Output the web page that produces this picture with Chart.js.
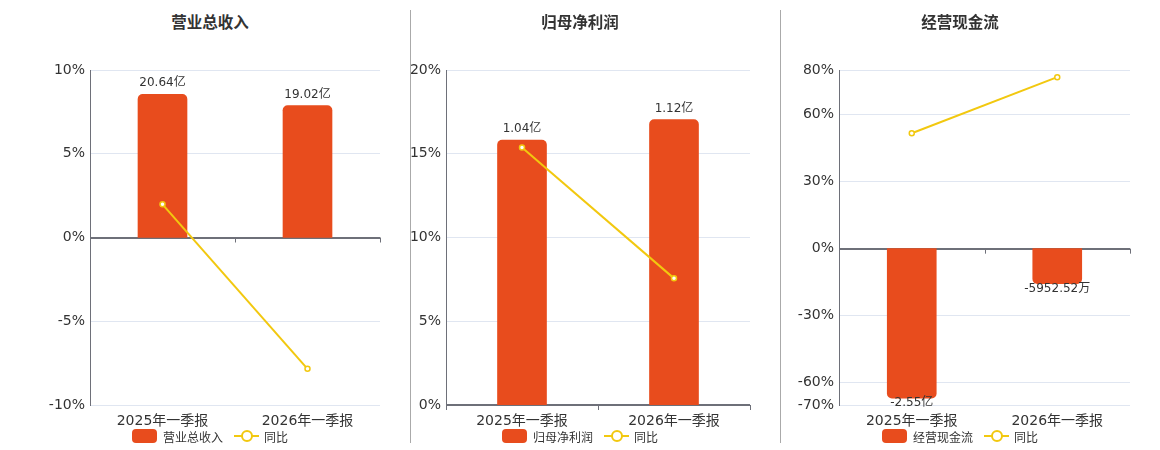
<!DOCTYPE html>
<html>
<head>
<meta charset="utf-8">
<script src="https://cdn.jsdelivr.net/npm/chart.js@4.4.1/dist/chart.umd.min.js"></script>
<style>
  html, body { margin: 0; padding: 0; background: #fff; }
  body { width: 1160px; height: 450px; position: relative; overflow: hidden;
         font-family: 'DejaVu Sans', 'Noto Sans CJK SC', sans-serif; color: #333; }
  .panel { position: absolute; top: 0; height: 450px; }
  .title { position: absolute; top: 12px; left: 0; right: 0; text-align: center;
           font-size: 15.5px; font-weight: bold; color: #333; line-height: 22px; }
  .box { position: absolute; top: 0; left: 0; height: 450px; }
  .legend { position: absolute; top: 429px; left: 0; right: 0; display: flex;
            justify-content: center; align-items: center; font-size: 12px; color: #333; height: 14px; }
  .legend .item { display: flex; align-items: center; }
  .legend .item + .item { margin-left: 11px; }
  .swatch { width: 25px; height: 14px; border-radius: 4px; background: #e84c1d; margin-right: 6px; }
  .lineicon { position: relative; width: 25px; height: 14px; margin-right: 5px; }
  .lineicon::before { content: ''; position: absolute; left: 0; right: 0; top: 6px; height: 2px; background: #f2c80f; }
  .lineicon::after { content: ''; position: absolute; left: 7px; top: 1px; width: 8px; height: 8px;
                     border: 2px solid #f2c80f; border-radius: 50%; background: #fff; }
  .divider { position: absolute; top: 10px; height: 433px; width: 1px; background: #aaa; }
</style>
</head>
<body>

<div class="panel" style="left:0;width:420px">
  <div class="title">营业总收入</div>
  <div class="box" style="width:390px"><canvas id="c1"></canvas></div>
  <div class="legend"><div class="item"><span class="swatch"></span>营业总收入</div><div class="item"><span class="lineicon"></span>同比</div></div>
</div>
<div class="divider" style="left:410px"></div>
<div class="panel" style="left:400px;width:360px">
  <div class="title">归母净利润</div>
  <div class="box" style="width:360px"><canvas id="c2"></canvas></div>
  <div class="legend"><div class="item"><span class="swatch"></span>归母净利润</div><div class="item"><span class="lineicon"></span>同比</div></div>
</div>
<div class="divider" style="left:780px"></div>
<div class="panel" style="left:780px;width:360px">
  <div class="title">经营现金流</div>
  <div class="box" style="width:360px"><canvas id="c3"></canvas></div>
  <div class="legend"><div class="item"><span class="swatch"></span>经营现金流</div><div class="item"><span class="lineicon"></span>同比</div></div>
</div>

<script>
// ---- data (amounts in 亿, growth in %) ----
const categories = ['2025年一季报', '2026年一季报'];

const revenueValues = [20.64, 19.02];
const revenueYoy = [1.98, -7.84];
const revenueTicks = [-10, -5, 0, 5, 10];

const profitValues = [1.04, 1.12];
const profitYoy = [15.37, 7.56];
const profitTicks = [0, 5, 10, 15, 20];

const cashValues = [-2.55, -0.595252];
const cashYoy = [51.7, 76.8];
const cashTicks = [-70, -60, -30, 0, 30, 60, 80];

const BAR = '#e84c1d';
const LINE = '#f2c80f';
const AXIS = '#6e7079';
const GRID = '#e0e6f1';
const FONT = "'DejaVu Sans', 'Noto Sans CJK SC', sans-serif";

function fmtAmount(v) {
    // values are in 亿; small ones shown in 万
    if (Math.abs(v) >= 1) return v.toFixed(2) + '亿';
    return (v * 10000).toFixed(2) + '万';
}

// bar value labels, zero-line tick marks
const extras = {
    id: 'extras',
    afterDatasetsDraw(chart) {
        const { ctx } = chart;
        const x = chart.scales.x, y = chart.scales.y;
        const zeroY = y.getPixelForValue(0);

        ctx.save();
        ctx.strokeStyle = AXIS;
        ctx.lineWidth = 1;
        for (let i = 0; i <= categories.length; i++) {
            const px = Math.round(x.getPixelForValue(i - 0.5)) + 0.5;
            ctx.beginPath();
            ctx.moveTo(px, zeroY);
            ctx.lineTo(px, zeroY + 5);
            ctx.stroke();
        }

        const meta = chart.getDatasetMeta(1);
        const values = chart.data.datasets[1].data;
        ctx.font = '12px ' + FONT;
        ctx.fillStyle = '#333';
        ctx.textAlign = 'center';
        ctx.textBaseline = 'middle';
        meta.data.forEach((bar, i) => {
            const v = values[i];
            const ly = v >= 0 ? bar.y - 11 : bar.y + 5;
            ctx.fillText(fmtAmount(v), bar.x, ly);
        });
        ctx.restore();
    }
};

function makeChart(id, bars, yoy, ticks, barRange, axisWidth) {
    const min = ticks[0], max = ticks[ticks.length - 1];
    return new Chart(document.getElementById(id), {
        type: 'bar',
        data: {
            labels: categories,
            datasets: [
                {
                    type: 'line',
                    label: '同比',
                    data: yoy,
                    yAxisID: 'y',
                    borderColor: LINE,
                    borderWidth: 2,
                    pointRadius: 2.5,
                    pointBorderWidth: 1.5,
                    pointBackgroundColor: '#fff',
                    pointBorderColor: LINE,
                    tension: 0,
                    order: 0
                },
                {
                    type: 'bar',
                    label: 'amount',
                    data: bars,
                    yAxisID: 'yBar',
                    backgroundColor: BAR,
                    barThickness: 49,
                    borderRadius: 5,
                    borderSkipped: 'start',
                    order: 1
                }
            ]
        },
        options: {
            responsive: true,
            maintainAspectRatio: false,
            animation: false,
            layout: { padding: { top: 70, right: 10, bottom: 15, left: 0 } },
            plugins: { legend: { display: false }, tooltip: { enabled: false } },
            scales: {
                x: {
                    grid: { display: false, drawTicks: false },
                    border: { display: false },
                    ticks: { color: '#333', font: { family: FONT, size: 14 }, padding: 8, maxRotation: 0 },
                    afterFit: s => { s.height = 30; }
                },
                y: {
                    position: 'left',
                    min, max,
                    afterBuildTicks: s => { s.ticks = ticks.map(v => ({ value: v })); },
                    ticks: {
                        color: '#333',
                        font: { family: FONT, size: 14 },
                        padding: 5,
                        callback: v => v + '%'
                    },
                    grid: {
                        drawTicks: false,
                        color: c => c.tick && c.tick.value === 0 ? AXIS : GRID,
                        lineWidth: c => c.tick && c.tick.value === 0 ? 2 : 1
                    },
                    border: { display: true, color: AXIS, width: 1 },
                    afterFit: s => { s.width = axisWidth; }
                },
                yBar: {
                    display: false,
                    min: barRange[0],
                    max: barRange[1]
                }
            }
        },
        plugins: [extras]
    });
}

makeChart('c1', revenueValues, revenueYoy, revenueTicks, [-24.15, 24.15], 90);
makeChart('c2', profitValues, profitYoy, profitTicks, [0, 1.315], 46);
makeChart('c3', cashValues, cashYoy, cashTicks, [-2.665, 3.045], 59);
</script>
</body>
</html>
